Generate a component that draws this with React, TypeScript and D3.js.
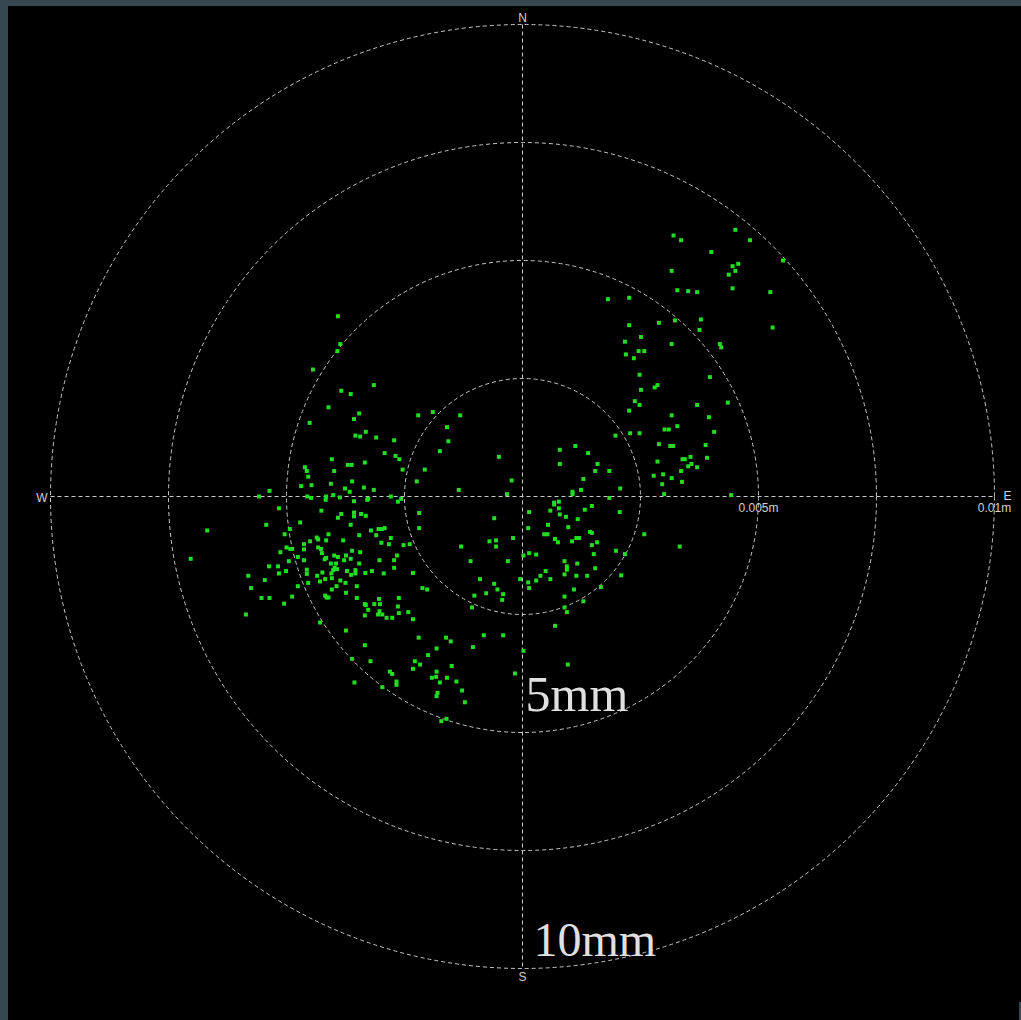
import React from "react";
import * as d3 from "d3";

// Horizontal position scatter: offsets in millimetres, east (+) / north (+)
const nwPoints: [number, number][] = [
  [-3.91, 3.82], [-3.86, 3.23], [-3.92, 3.08], [-4.44, 2.69], [-3.84, 2.24], [-3.64, 2.17], [-3.15, 2.36],
];

const northeastArc: [number, number][] = [
  [4.51, 5.65], [3.2, 5.53], [3.36, 5.43], [4.82, 5.43], [4.0, 5.18], [5.52, 5.0], [4.57, 4.93], [4.45, 4.88],
  [3.16, 4.78], [4.51, 4.78], [4.37, 4.7], [4.45, 4.41], [3.28, 4.37], [3.51, 4.35], [3.7, 4.33], [5.25, 4.33],
  [1.81, 4.18], [2.26, 4.21], [3.78, 3.75], [3.23, 3.73], [2.89, 3.68], [2.26, 3.63], [5.3, 3.58], [3.75, 3.53],
  [2.51, 3.38], [2.17, 3.28], [4.18, 3.23], [4.21, 3.16], [3.16, 3.23], [2.46, 3.08], [2.58, 3.08], [2.19, 3.01],
  [2.36, 2.93], [2.48, 2.58], [3.97, 2.53], [2.86, 2.36], [2.8, 2.31], [2.51, 2.26],
];

const eastPoints: [number, number][] = [
  [2.38, 2.02], [2.48, 1.94], [2.26, 1.82], [3.7, 1.94], [4.35, 1.99], [3.16, 1.72], [3.95, 1.68], [3.28, 1.49],
  [3.01, 1.42], [3.1, 1.42], [4.06, 1.37], [2.28, 1.34], [2.48, 1.34], [1.97, 1.29], [3.88, 1.09], [2.89, 1.11],
  [3.13, 1.07], [3.19, 1.07], [3.56, 0.84], [3.39, 0.79], [3.44, 0.79], [3.91, 0.82], [2.86, 0.74], [3.58, 0.69],
  [3.51, 0.64], [3.7, 0.62], [1.59, 0.69], [1.54, 0.54], [1.84, 0.54], [3.36, 0.54], [2.98, 0.47], [2.78, 0.44],
  [3.16, 0.39], [3.38, 0.31], [2.96, 0.26], [2.07, 0.17], [3.0, 0.05], [4.42, 0.03], [1.84, -0.03], [2.06, -0.33],
  [2.58, -0.8], [3.33, -1.06], [1.58, -0.97], [1.98, -1.15], [2.17, -1.22], [1.51, -1.22],
];

const centralPoints: [number, number][] = [
  [-2.21, 1.72], [-1.9, 1.79], [-1.32, 1.72], [-1.6, 1.47], [-2.72, 1.19], [-1.57, 1.17], [-1.75, 0.96], [-2.69, 0.86],
  [-2.61, 0.79], [-0.5, 0.84], [0.79, 0.99], [1.12, 1.07], [1.39, 0.92], [0.79, 0.69], [-2.54, 0.57], [-2.07, 0.57],
  [-2.24, 0.32], [-0.23, 0.34], [-1.35, 0.14], [1.29, 0.37], [1.24, 0.14], [1.06, 0.1], [1.06, 0.05], [-0.33, 0.05],
  [-2.79, 0.0], [-2.57, -0.05], [-2.64, -0.11], [0.67, -0.13], [0.67, -0.17], [0.77, -0.11], [1.47, -0.2], [0.14, -0.33],
  [0.59, -0.3], [0.77, -0.25], [1.32, -0.28], [-2.19, -0.35], [0.79, -0.38], [0.92, -0.43], [-0.6, -0.46], [1.17, -0.48],
  [0.54, -0.6], [-2.19, -0.67], [0.12, -0.67], [0.97, -0.65], [0.46, -0.8], [0.53, -0.8], [1.43, -0.75], [1.47, -0.77],
  [-2.79, -0.88], [-0.7, -0.95], [-0.56, -0.93], [-0.2, -0.88], [0.69, -0.9], [0.75, -0.97], [1.05, -0.95], [1.14, -0.88],
  [1.2, -0.88], [-2.52, -1.03], [-2.39, -1.01], [-2.83, -1.01], [-1.3, -1.06], [-0.56, -1.06], [1.47, -1.03], [-2.66, -1.25],
  [-2.72, -1.35], [0.02, -1.25], [0.14, -1.2], [0.29, -1.23], [-1.1, -1.37], [-0.31, -1.37], [0.89, -1.37], [1.16, -1.42],
];

const westCluster: [number, number][] = [
  [-4.11, 1.89], [-3.46, 1.76], [-3.57, 1.64], [-4.51, 1.56], [-3.32, 1.37], [-3.54, 1.29], [-3.44, 1.27], [-3.1, 1.25],
  [-2.92, 0.92], [-4.04, 0.79], [-3.34, 0.72], [-3.7, 0.67], [-3.62, 0.67], [-4.61, 0.62], [-4.57, 0.54], [-3.99, 0.54],
  [-4.54, 0.42], [-3.61, 0.32], [-4.69, 0.22], [-4.47, 0.24], [-4.06, 0.27], [-3.76, 0.17], [-3.36, 0.19], [-3.15, 0.14],
  [-5.36, 0.12], [-3.66, 0.1], [-5.58, 0.0], [-4.56, 0.0], [-4.48, -0.03], [-4.16, 0.0], [-4.17, -0.07], [-4.01, 0.03],
  [-3.87, -0.02], [-3.57, -0.1], [-3.29, -0.07], [-3.27, -0.05], [-5.16, -0.25], [-4.26, -0.3], [-3.84, -0.37], [-3.91, -0.45],
  [-3.57, -0.34], [-3.57, -0.42], [-3.42, -0.37], [-3.32, -0.41], [-4.71, -0.55], [-3.64, -0.6], [-5.43, -0.6], [-6.68, -0.72],
  [-4.93, -0.69], [-3.05, -0.69], [-2.98, -0.69], [-2.92, -0.67], [-3.21, -0.72], [-5.04, -0.8], [-4.36, -0.87], [-4.33, -0.91],
  [-4.11, -0.8], [-4.16, -0.93], [-3.8, -0.93], [-3.46, -0.82], [-3.1, -0.82], [-2.99, -0.98], [-4.63, -1.01], [-4.5, -0.95],
  [-5.0, -1.08], [-4.92, -1.11], [-4.88, -1.11], [-4.63, -1.12], [-4.33, -1.08], [-4.27, -1.11], [-4.25, -1.2], [-5.13, -1.18],
  [-3.99, -1.25], [-3.91, -1.28], [-4.16, -1.3], [-4.19, -1.33], [-3.74, -1.25], [-3.61, -1.15], [-3.44, -1.18], [-7.03, -1.32],
  [-4.95, -1.37], [-4.76, -1.28], [-4.63, -1.35], [-3.78, -1.35], [-3.64, -1.32], [-3.46, -1.42], [-4.06, -1.42], [-3.95, -1.42],
  [-3.03, -1.35],
];

const southwestCluster: [number, number][] = [
  [-5.37, -1.48], [-5.18, -1.48], [-5.81, -1.68], [-5.46, -1.77], [-5.16, -1.63], [-5.01, -1.58], [-4.57, -1.55], [-4.57, -1.64],
  [-4.35, -1.68], [-4.24, -1.61], [-4.29, -1.8], [-4.18, -1.75], [-4.05, -1.63], [-3.98, -1.51], [-3.93, -1.54], [-4.01, -1.56],
  [-4.04, -1.73], [-3.86, -1.78], [-3.72, -1.58], [-3.63, -1.66], [-3.54, -1.56], [-3.54, -1.63], [-3.33, -1.62], [-3.19, -1.58],
  [-2.94, -1.63], [-4.54, -1.83], [-4.76, -1.9], [-3.75, -1.83], [-3.94, -1.9], [-3.51, -1.9], [-4.04, -1.97], [-3.74, -2.04],
  [-4.18, -2.1], [-4.15, -2.14], [-4.11, -2.14], [-5.75, -1.94], [-5.53, -2.15], [-5.36, -2.15], [-4.88, -2.12], [-3.51, -2.15],
  [-5.05, -2.27], [-5.86, -2.5], [-3.34, -2.28], [-3.32, -2.3], [-3.14, -2.28], [-3.02, -2.28], [-3.04, -2.17], [-3.27, -2.4],
  [-3.34, -2.52], [-3.03, -2.43], [-3.06, -2.5], [-2.97, -2.5], [-2.88, -2.57], [-4.29, -2.67], [-3.74, -2.84], [-3.34, -3.15],
  [-3.61, -3.44], [-3.22, -3.49], [-3.56, -3.94], [-2.97, -4.04],
];

const southArc: [number, number][] = [
  [-2.72, -1.51], [-2.32, -1.62], [-2.12, -1.94], [-2.02, -1.97], [-2.62, -2.15], [-2.64, -2.33], [-2.62, -2.47], [-2.42, -2.45],
  [-2.32, -2.6], [-2.76, -2.57], [-0.9, -1.75], [-0.6, -1.85], [-0.53, -1.97], [-0.77, -2.05], [-1.02, -2.1], [-0.41, -2.07],
  [-0.43, -2.19], [-1.07, -2.35], [-0.05, -1.75], [0.12, -1.82], [0.14, -1.94], [0.29, -1.78], [0.38, -1.68], [0.49, -1.58],
  [0.59, -1.75], [0.94, -1.48], [0.94, -1.55], [0.89, -1.65], [1.14, -1.68], [1.37, -1.68], [1.09, -1.97], [0.89, -2.12],
  [1.29, -2.22], [0.89, -2.35], [0.94, -2.45], [0.69, -2.74], [-2.2, -2.99], [-1.62, -2.99], [-1.52, -3.07], [-0.82, -2.94],
  [-0.41, -2.94], [-1.82, -3.22], [-1.05, -3.19], [0.02, -3.27], [-2.0, -3.36], [-2.28, -3.49], [-2.17, -3.56], [-2.32, -3.65],
  [-1.5, -3.59], [0.96, -3.56], [-2.81, -3.71], [-2.76, -3.76], [-1.82, -3.71], [-1.83, -3.82], [-1.92, -3.84], [-1.6, -3.84],
  [-1.75, -3.94], [-1.4, -3.92], [-2.67, -3.92], [-2.67, -3.99], [-0.16, -3.75], [-1.28, -4.11], [-1.8, -4.16], [-1.82, -4.23],
  [-1.22, -4.36], [-1.61, -4.71], [-1.72, -4.76],
];

const southeastPoints: [number, number][] = [
  [1.54, -1.52], [2.09, -1.67], [1.66, -1.92],
];

// Range rings (mm) and their labels
const ringRadii = [2.5, 5, 7.5, 10];
const ringLabels: { r: number; text: string }[] = [
  { r: 5, text: "0.005m" },
  { r: 10, text: "0.01m" },
];
const bigLabels: { r: number; text: string }[] = [
  { r: 5, text: "5mm" },
  { r: 10, text: "10mm" },
];

const W = 1021;
const H = 1020;
const CX = 522.5;
const CY = 496.5;
const R = 472;
const PT = 4;

// placement of the large ring annotations relative to the ring's south crossing
const bigLabelStyle: Record<string, { dx: number; dy: number; size: number }> = {
  "5mm": { dx: 3, dy: -22, size: 50 },
  "10mm": { dx: 11, dy: -13, size: 48 },
};

export default function App() {
  const allPoints = [
    ...nwPoints, ...northeastArc, ...eastPoints, ...centralPoints,
    ...westCluster, ...southwestCluster, ...southArc, ...southeastPoints,
  ];
  const maxR = d3.max(ringRadii) as number;
  const x = d3.scaleLinear().domain([-maxR, maxR]).range([CX - R, CX + R]);
  const y = d3.scaleLinear().domain([-maxR, maxR]).range([CY + R, CY - R]);
  const rr = d3.scaleLinear().domain([0, maxR]).range([0, R]);

  const gridStroke = "#c8c8c8";
  const dash = "4,3";
  const small = { fontFamily: "'Liberation Sans', Arial, sans-serif", fontSize: 12, fill: "#d0d0d0" };

  return (
    <svg width={W} height={H} style={{ position: "absolute", left: 0, top: 0, display: "block" }}>
      <rect x={0} y={0} width={W} height={H} fill="#000" />
      <rect x={0} y={0} width={W} height={6} fill="#37474f" />
      <rect x={0} y={0} width={8} height={H} fill="#37474f" />
      <rect x={1019} y={1002} width={2} height={18} fill="#37474f" />

      {ringRadii.map((r) => (
        <circle key={r} cx={CX} cy={CY} r={rr(r)} fill="none" stroke={gridStroke} strokeWidth={1} strokeDasharray={dash} />
      ))}
      <line x1={x(-maxR)} x2={x(maxR)} y1={CY} y2={CY} stroke={gridStroke} strokeDasharray={dash} />
      <line x1={CX} x2={CX} y1={y(maxR)} y2={y(-maxR)} stroke={gridStroke} strokeDasharray={dash} />

      <text x={CX} y={22} textAnchor="middle" {...small}>N</text>
      <text x={CX} y={981} textAnchor="middle" {...small}>S</text>
      <text x={x(-maxR) - 3} y={CY + 5} textAnchor="end" {...small}>W</text>
      <text x={x(maxR) + 9} y={CY + 3} textAnchor="start" {...small}>E</text>
      {ringLabels.map((l) => (
        <text key={l.text} x={CX + rr(l.r)} y={CY + 15} textAnchor="middle" {...small}>{l.text}</text>
      ))}

      {allPoints.map((p, i) => (
        <rect key={i} x={x(p[0]) - PT / 2} y={y(p[1]) - PT / 2} width={PT} height={PT} fill="#22dd22" />
      ))}

      {bigLabels.map((l) => {
        const s = bigLabelStyle[l.text];
        return (
          <text key={l.text} x={CX + s.dx} y={CY + rr(l.r) + s.dy} textAnchor="start"
            fontFamily="'Liberation Serif', 'Times New Roman', serif" fontSize={s.size} fill="#e0e0e0">{l.text}</text>
        );
      })}
    </svg>
  );
}
